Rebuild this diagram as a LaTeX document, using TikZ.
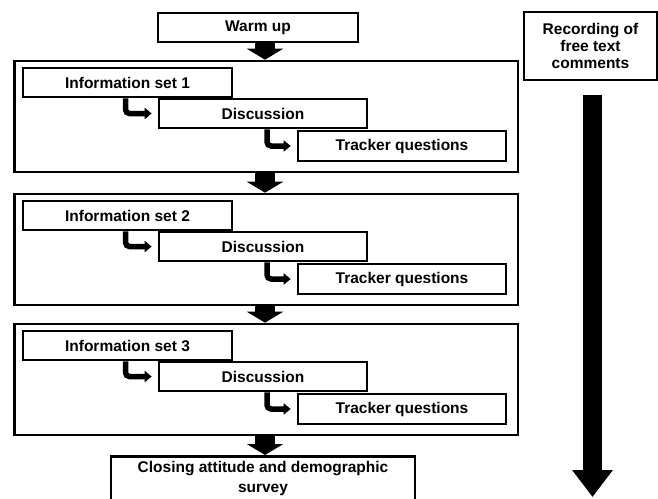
\documentclass[tikz,border=0pt]{standalone}
\usepackage{fontspec}
\setmainfont{Liberation Sans}
\usetikzlibrary{arrows.meta}
\begin{document}
\begin{tikzpicture}[x=1pt,y=-1pt,
  box/.style={draw=black, line width=2.6pt, fill=white, inner sep=0pt, align=center,
    font=\fontsize{15.5}{18}\selectfont\bfseries},
  outerbox/.style={draw=black, line width=2.6pt, inner sep=0pt},
  blockarrow/.style={line width=20pt, -{Triangle[width=36pt,length=11pt]}},
  elbow/.style={line width=5.5pt, rounded corners=4pt, -{Triangle[width=11pt,length=7pt]}, shorten >=6pt},
  bigarrow/.style={line width=19pt, -{Triangle[width=39pt,length=27pt]}}
]
\clip (0,0) rectangle (658,498);
\fill[white] (0,0) rectangle (658,498);

% top box
\node[box, minimum width=200pt, minimum height=29pt] (warm) at (258,27.5) {Warm up};

% blocks
\foreach \i/\T in {1/61,2/194,3/324}{
  \node[outerbox, minimum width=503.5pt, minimum height=111pt] (blk\i) at (266.25,\T+55.5) {};
  \node[box, minimum width=209pt, minimum height=29pt] (info\i) at (127.5,\T+21.5) {Information set \i};
  \node[box, minimum width=208pt, minimum height=29pt] (disc\i) at (263,\T+52.5) {Discussion};
  \node[box, minimum width=208pt, minimum height=30pt] (track\i) at (402,\T+85) {Tracker questions};
  \draw[elbow] (info\i.south -| 125.5,0) |- (disc\i.west);
  \draw[elbow] (disc\i.south -| 267,0) |- (track\i.west);
}

% closing box
\node[box, minimum width=304pt, inner ysep=5pt, anchor=north, font=\fontsize{15.5}{19.5}\selectfont\bfseries] (closing) at (263,455)
  {Closing attitude and demographic\\survey\\\mbox{}};

% block arrows
\draw[blockarrow] (warm.south -| 265,0) -- (blk1.north -| 265,0);
\draw[blockarrow] (blk1.south -| 265,0) -- (blk2.north -| 265,0);
\draw[blockarrow] (blk2.south -| 265,0) -- (blk3.north -| 265,0);
\draw[blockarrow] (blk3.south -| 265,0) -- (closing.north -| 265,0);

% right side
\node[box, minimum width=133pt, minimum height=68pt, font=\fontsize{15.5}{17}\selectfont\bfseries] (rec) at (590.5,46) {Recording of\\free text\\comments};
\coordinate (bigend) at (592.5,497);
\draw[bigarrow] (rec.south -| 592.5,0) ++(0,14) -- (bigend);
\end{tikzpicture}
\end{document}
